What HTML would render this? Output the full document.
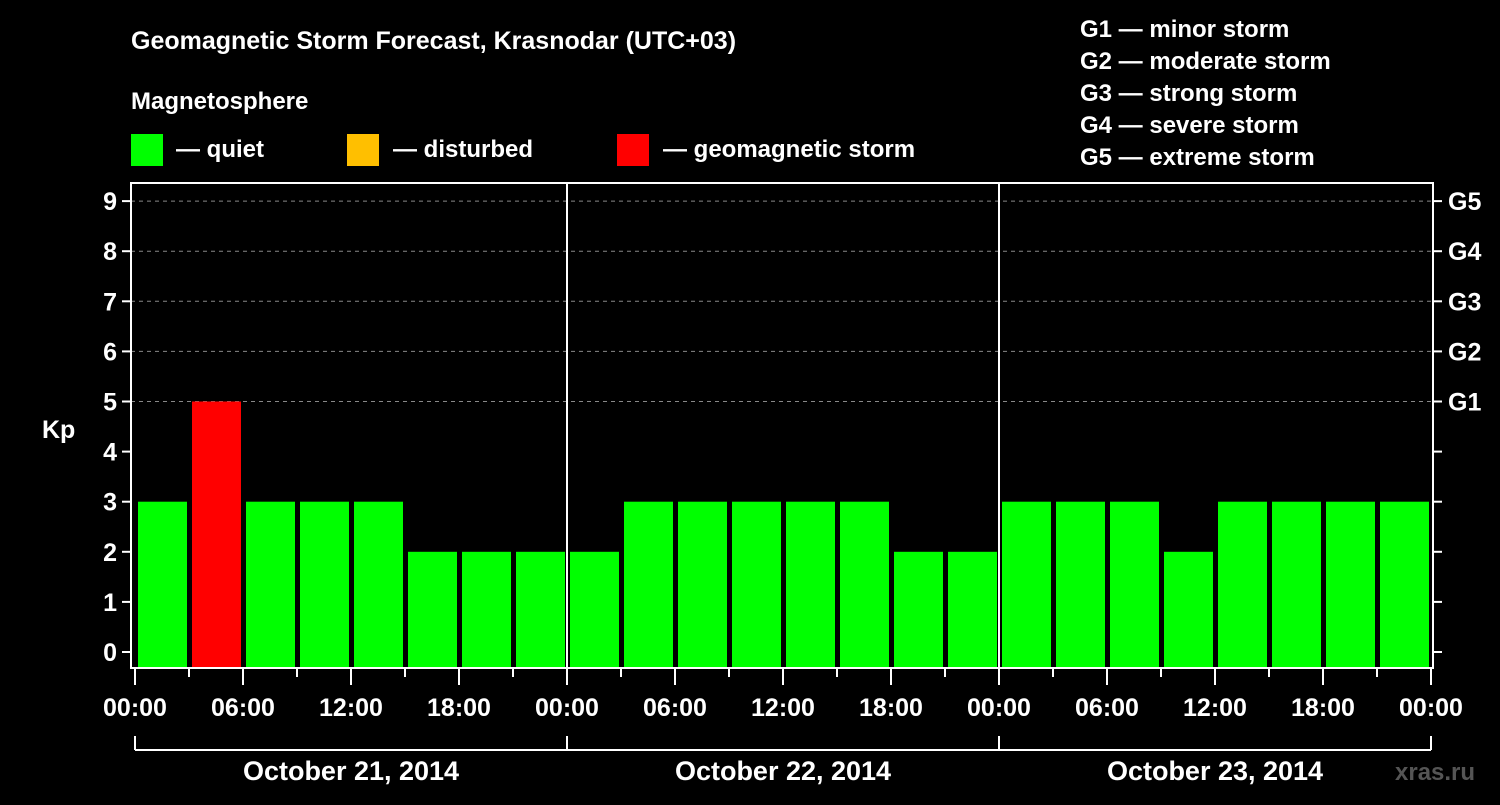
<!DOCTYPE html>
<html><head><meta charset="utf-8"><style>
body{margin:0;background:#000;width:1500px;height:800px;overflow:hidden}
text{font-family:"Liberation Sans",Arial,sans-serif;font-weight:bold;fill:#fff}
</style></head><body>
<svg id="chart" width="1500" height="800" xmlns="http://www.w3.org/2000/svg">
<rect width="1500" height="800" fill="#000"/>
<text x="131" y="49" font-size="25">Geomagnetic Storm Forecast, Krasnodar (UTC+03)</text>
<text x="131" y="109" font-size="24">Magnetosphere</text>
<g>
<rect x="131" y="134" width="32" height="32" fill="#00ff00"/>
<text x="176" y="157" font-size="24">— quiet</text>
<rect x="347" y="134" width="32" height="32" fill="#ffbf00"/>
<text x="393" y="157" font-size="24">— disturbed</text>
<rect x="617" y="134" width="32" height="32" fill="#ff0000"/>
<text x="663" y="157" font-size="24">— geomagnetic storm</text>
</g>
<g font-size="24">
<text x="1080" y="37" font-size="24">G1 — minor storm</text>
<text x="1080" y="69" font-size="24">G2 — moderate storm</text>
<text x="1080" y="101" font-size="24">G3 — strong storm</text>
<text x="1080" y="133" font-size="24">G4 — severe storm</text>
<text x="1080" y="165" font-size="24">G5 — extreme storm</text>
</g>
<text x="42" y="438" font-size="25">Kp</text>
<text x="1395" y="780" font-size="24" fill="#555" style="fill:#555">xras.ru</text>
<g id="grid"></g><g id="bars"></g><g id="axes"></g>
</svg>
<script>
const kpValues=[3,5,3,3,3,2,2,2, 2,3,3,3,3,3,2,2, 3,3,3,2,3,3,3,3];
const yTicks=[0,1,2,3,4,5,6,7,8,9];
const gLabels=["G1","G2","G3","G4","G5"];
const gLevels=[5,6,7,8,9];
const hourLabels=["00:00","06:00","12:00","18:00"];
const dayLabels=["October 21, 2014","October 22, 2014","October 23, 2014"];
const NS="http://www.w3.org/2000/svg";
const X0=135,DAYW=432,SLOT=54,Y0=652,UNIT=50.1,TOP=183,BOT=668,LEFT=131,RIGHT=1433;
const x=h=>X0+h*(DAYW/24), y=v=>Y0-v*UNIT;
function mk(p,tag,a){const e=document.createElementNS(NS,tag);for(const k in a)e.setAttribute(k,a[k]);p.appendChild(e);return e;}
const grid=document.getElementById('grid'),bars=document.getElementById('bars'),axes=document.getElementById('axes');
gLevels.forEach(v=>{const l=mk(grid,'line',{x1:LEFT,x2:RIGHT,y1:y(v),y2:y(v),stroke:'#888','stroke-dasharray':'4 4','stroke-width':1});

});
kpValues.forEach((v,i)=>{const c=v>=5?'#ff0000':(v>=4?'#ffbf00':'#00ff00');
const r=mk(bars,'rect',{x:x(i*3)+3,y:y(v),width:SLOT-5,height:BOT-y(v),fill:c});

});
const fr=mk(axes,'rect',{x:LEFT,y:TOP,width:RIGHT-LEFT,height:BOT-TOP,fill:'none',stroke:'#fff','stroke-width':2});


for(let d=1;d<3;d++){const l=mk(axes,'line',{x1:x(d*24),x2:x(d*24),y1:TOP,y2:BOT,stroke:'#fff','stroke-width':2});

}
yTicks.forEach(v=>{mk(axes,'line',{x1:LEFT-9,x2:LEFT,y1:y(v),y2:y(v),stroke:'#fff','stroke-width':2});
mk(axes,'line',{x1:RIGHT,x2:RIGHT+9,y1:y(v),y2:y(v),stroke:'#fff','stroke-width':2});
const t=mk(axes,'text',{x:LEFT-14,y:y(v)+9,'text-anchor':'end','font-size':25});t.textContent=v;

});
gLabels.forEach((g,i)=>{const t=mk(axes,'text',{x:RIGHT+15,y:y(gLevels[i])+9,'font-size':25});t.textContent=g;

});
for(let h=0;h<=72;h+=3){const major=h%6===0;mk(axes,'line',{x1:x(h),x2:x(h),y1:BOT,y2:BOT+(major?17:9),stroke:'#fff','stroke-width':2});
if(major){const t=mk(axes,'text',{x:x(h),y:716,'text-anchor':'middle','font-size':25});t.textContent=hourLabels[(h/6)%4];

}}
mk(axes,'line',{x1:x(0),x2:x(72),y1:750,y2:750,stroke:'#fff','stroke-width':2});
for(let d=0;d<=3;d++)mk(axes,'line',{x1:x(d*24),x2:x(d*24),y1:736,y2:750,stroke:'#fff','stroke-width':2});
dayLabels.forEach((s,d)=>{const t=mk(axes,'text',{x:x(d*24+12),y:780,'text-anchor':'middle','font-size':27});t.textContent=s;

});
</script>
</body></html>
